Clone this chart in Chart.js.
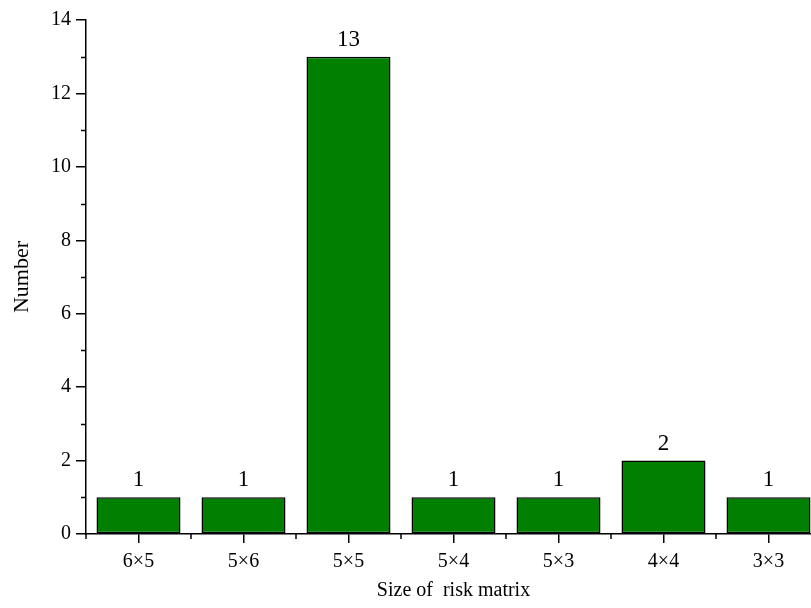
<!DOCTYPE html>
<html>
<head>
<meta charset="utf-8">
<script src="https://cdn.jsdelivr.net/npm/chart.js@4/dist/chart.umd.min.js"></script>
<style>
html,body{margin:0;padding:0;background:#fff;overflow:hidden;width:811px;height:608px;}
#wrap{position:absolute;left:0;top:0;width:830px;height:608px;}
</style>
</head>
<body>
<div id="wrap"><canvas id="c" width="830" height="608"></canvas></div>
<script>
const categories = ['6×5', '5×6', '5×5', '5×4', '5×3', '4×4', '3×3'];
const counts = [1, 1, 13, 1, 1, 2, 1];
const yTickValues = [0, 2, 4, 6, 8, 10, 12, 14];
const xTitle = 'Size of  risk matrix';
const yTitle = 'Number';

const FONT = '"Liberation Serif", "Times New Roman", serif';

const extras = {
  id: 'extras',
  afterDraw(chart) {
    const ctx = chart.ctx;
    const x = chart.scales.x, y = chart.scales.y;
    ctx.save();
    ctx.strokeStyle = '#000';
    ctx.lineWidth = 1.5;
    // minor y ticks at odd values
    for (let v = 1; v < 14; v += 2) {
      const py = Math.round(y.getPixelForValue(v)) + 0.5;
      ctx.beginPath();
      ctx.moveTo(x.left - 5, py);
      ctx.lineTo(x.left, py);
      ctx.stroke();
    }
    // minor x ticks at category boundaries
    for (let i = 0; i <= categories.length; i++) {
      const px = (x.getPixelForValue(i - 0.5));
      ctx.beginPath();
      ctx.moveTo(px, y.bottom);
      ctx.lineTo(px, y.bottom + 5);
      ctx.stroke();
    }
    // data labels
    ctx.fillStyle = '#000';
    ctx.font = '23px ' + FONT;
    ctx.textAlign = 'center';
    ctx.textBaseline = 'alphabetic';
    const meta = chart.getDatasetMeta(0);
    meta.data.forEach((bar, i) => {
      ctx.fillText(String(counts[i]), bar.x, bar.y - 11);
    });
    ctx.restore();
  }
};

new Chart(document.getElementById('c'), {
  type: 'bar',
  data: {
    labels: categories,
    datasets: [{
      data: counts,
      backgroundColor: '#007f00',
      borderColor: '#000',
      borderWidth: 1.5,
      borderSkipped: false,
      barPercentage: 0.8,
      categoryPercentage: 1.0
    }]
  },
  options: {
    responsive: false,
    animation: false,
    events: [],
    layout: { padding: { left: 0, right: 9, top: 20, bottom: 0 } },
    plugins: { legend: { display: false }, tooltip: { enabled: false } },
    scales: {
      x: {
        offset: true,
        grid: { display: true, drawOnChartArea: false, drawTicks: true, tickLength: 9, offset: false, color: '#000', lineWidth: 1.5 },
        border: { display: true, color: '#000', width: 1.5 },
        ticks: { color: '#000', font: { family: FONT, size: 20 }, padding: 7, maxRotation: 0 },
        title: { display: true, text: xTitle, color: '#000', font: { family: FONT, size: 20 }, padding: { top: 4, bottom: 5 } },
        afterFit(s) { s.height = 74; }
      },
      y: {
        min: 0, max: 14,
        afterBuildTicks(s) { s.ticks = yTickValues.map(v => ({ value: v })); },
        grid: { display: true, drawOnChartArea: false, drawTicks: true, tickLength: 10, color: '#000', lineWidth: 1.5 },
        border: { display: true, color: '#000', width: 1.5 },
        ticks: { color: '#000', font: { family: FONT, size: 20 }, padding: 5 },
        title: { display: true, text: yTitle, color: '#000', font: { family: FONT, size: 22 }, padding: { top: 9, bottom: 0 } },
        afterFit(s) { s.width = 86; }
      }
    }
  },
  plugins: [extras]
});
</script>
</body>
</html>
